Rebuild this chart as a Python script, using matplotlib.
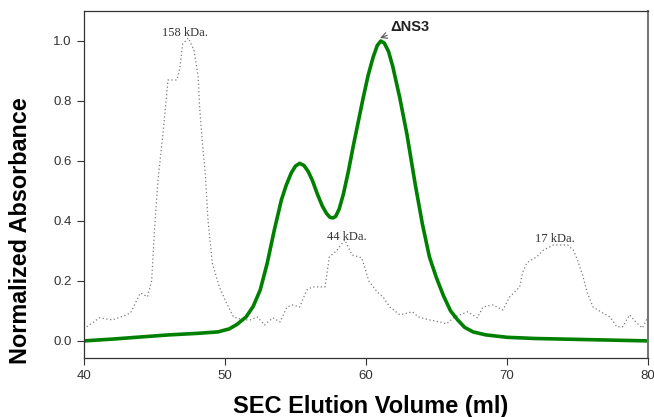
import matplotlib
matplotlib.use("Agg")
import matplotlib.pyplot as plt

# Delta NS3 elution profile (green)
ns3_vol = [40.0, 42.0, 44.0, 46.0, 48.0, 49.5, 50.3, 50.85, 51.5, 52.0, 52.5, 53.0,
           53.5, 54.0, 54.35, 54.7, 55.0, 55.3, 55.6, 55.9, 56.2, 56.55, 56.9, 57.2,
           57.45, 57.65, 57.85, 58.1, 58.4, 58.75, 59.1, 59.45, 59.8, 60.15, 60.5,
           60.8, 61.05, 61.3, 61.6, 61.9, 62.4, 62.9, 63.5, 64.0, 64.5, 65.0, 65.5,
           66.0, 66.5, 67.0, 67.6, 68.5, 70.0, 72.0, 75.0, 78.0, 80.0]
ns3_abs = [0.0, 0.006, 0.013, 0.02, 0.025, 0.03, 0.04, 0.055, 0.08, 0.115, 0.17, 0.26,
           0.37, 0.47, 0.52, 0.56, 0.583, 0.592, 0.585, 0.565, 0.535, 0.49, 0.45, 0.425,
           0.412, 0.41, 0.415, 0.44, 0.49, 0.565, 0.65, 0.73, 0.81, 0.885, 0.945,
           0.985, 1.0, 0.993, 0.965, 0.915, 0.81, 0.69, 0.52, 0.39, 0.28, 0.21, 0.15,
           0.10, 0.07, 0.045, 0.03, 0.02, 0.012, 0.008, 0.005, 0.002, 0.0]

# Molecular weight standards (dotted)
std_vol = [40.2, 41.1, 42.0, 42.8, 43.3, 44.0, 44.5, 44.8, 45.0, 45.25, 45.6, 45.96,
           46.6, 46.8, 47.0, 47.4, 47.8, 48.1, 48.2, 48.4, 48.6, 48.8, 49.1, 49.6,
           50.1, 50.6, 51.3, 51.8, 52.3, 52.8, 53.4, 53.9, 54.4, 54.8, 55.3, 55.8,
           56.2, 57.1, 57.4, 57.9, 58.5, 59.0, 59.7, 60.2, 60.8, 61.2, 61.7, 62.4,
           63.3, 63.7, 64.5, 65.25, 65.7, 66.3, 67.2, 67.9, 68.3, 69.0, 69.7, 70.2,
           70.9, 71.1, 71.4, 72.1, 72.6, 73.3, 74.3, 74.7, 75.0, 75.4, 75.7, 76.1,
           76.8, 77.3, 77.8, 78.2, 78.7, 79.2, 79.6, 80.0]
std_abs = [0.047, 0.077, 0.07, 0.083, 0.093, 0.16, 0.147, 0.2, 0.37, 0.537, 0.69, 0.87,
           0.87, 0.91, 0.99, 1.01, 0.97, 0.88, 0.78, 0.66, 0.56, 0.40, 0.26, 0.18,
           0.127, 0.08, 0.07, 0.07, 0.08, 0.053, 0.077, 0.063, 0.113, 0.12, 0.113, 0.17,
           0.18, 0.18, 0.28, 0.30, 0.337, 0.287, 0.277, 0.2, 0.163, 0.147, 0.113, 0.087,
           0.097, 0.08, 0.07, 0.063, 0.057, 0.08, 0.097, 0.077, 0.113, 0.12, 0.103, 0.147,
           0.18, 0.227, 0.26, 0.28, 0.303, 0.32, 0.32, 0.303, 0.27, 0.213, 0.16, 0.113,
           0.093, 0.08, 0.047, 0.047, 0.087, 0.06, 0.043, 0.08]

std_labels = ["158 kDa.", "44 kDa.", "17 kDa."]
std_label_x = [47.2, 58.65, 73.4]
std_label_y = [1.027, 0.347, 0.34]

x_ticks = [40, 50, 60, 70, 80]
y_ticks = [0.0, 0.2, 0.4, 0.6, 0.8, 1.0]

fig = plt.figure(figsize=(6.54, 4.17), dpi=100)
ax = fig.add_axes([0.1284, 0.1415, 0.8624, 0.8321])

ax.plot(std_vol, std_abs, linestyle=(0, (1, 2)), color="#7a7a7a", linewidth=0.9)
ax.plot(ns3_vol, ns3_abs, color="#008000", linewidth=2.6, solid_capstyle="round",
        solid_joinstyle="round")

for lbl, lx, ly in zip(std_labels, std_label_x, std_label_y):
    ax.text(lx, ly, lbl, family="Liberation Serif", fontsize=9, color="#333333",
            ha="center", va="center")

ax.annotate("ΔNS3", xy=(61.0, 1.01), xytext=(61.7, 1.047),
            family="Liberation Sans", fontsize=10.5, fontweight="bold", color="#222222",
            ha="left", va="center",
            arrowprops=dict(arrowstyle="->", color="#555555", lw=0.8,
                            shrinkA=0, shrinkB=0))

ax.set_xlim(40, 80)
ax.set_ylim(-0.057, 1.1)
ax.set_xticks(x_ticks)
ax.set_yticks(y_ticks)
ax.set_yticklabels([f"{v:.1f}" for v in y_ticks])
ax.tick_params(direction="out", length=5, width=0.8, colors="#333333",
               labelsize=9.5, pad=4)
for lab in ax.get_xticklabels() + ax.get_yticklabels():
    lab.set_family("Liberation Sans")

for s in ["left", "bottom", "top"]:
    ax.spines[s].set_color("#333333")
    ax.spines[s].set_linewidth(0.9)
ax.spines["right"].set_color("#777777")
ax.spines["right"].set_linewidth(1.5)

fig.text(0.566, 0.024, "SEC Elution Volume (ml)", family="Liberation Sans",
         fontsize=17, fontweight="bold", ha="center", va="center")
fig.text(0.031, 0.446, "Normalized Absorbance", family="Liberation Sans",
         fontsize=16.8, fontweight="bold", ha="center", va="center", rotation=90)

fig.savefig("out.png", dpi=100)
